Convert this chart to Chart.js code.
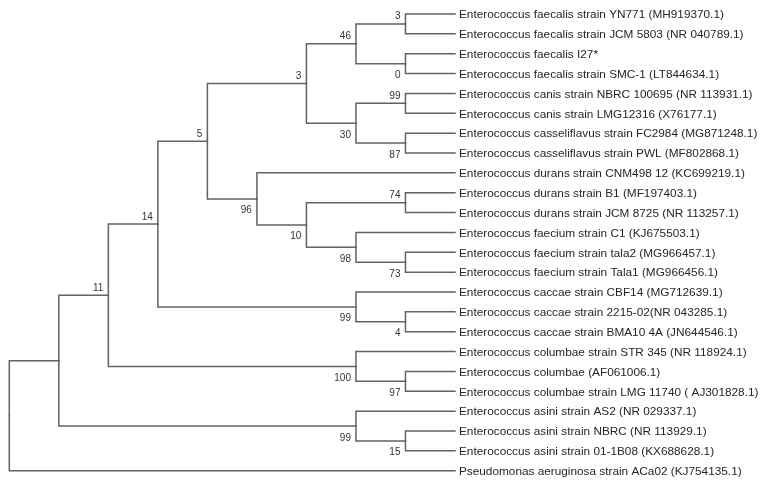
<!DOCTYPE html>
<html><head><meta charset="utf-8">
<script src="https://cdn.jsdelivr.net/npm/chart.js@4/dist/chart.umd.min.js"></script>
<style>html,body{margin:0;padding:0;background:#fff;overflow:hidden}#wrap{width:768px;height:484px;position:relative}</style>
</head><body><div id="wrap"><canvas id="c"></canvas></div>
<script>
// Leaf (taxon) labels, top to bottom
const leafNames = [
  "Enterococcus faecalis strain YN771 (MH919370.1)",
  "Enterococcus faecalis strain JCM 5803 (NR 040789.1)",
  "Enterococcus faecalis I27*",
  "Enterococcus faecalis strain SMC-1 (LT844634.1)",
  "Enterococcus canis strain NBRC 100695 (NR 113931.1)",
  "Enterococcus canis strain LMG12316 (X76177.1)",
  "Enterococcus casseliflavus strain FC2984 (MG871248.1)",
  "Enterococcus casseliflavus strain PWL (MF802868.1)",
  "Enterococcus durans strain CNM498 12 (KC699219.1)",
  "Enterococcus durans strain B1 (MF197403.1)",
  "Enterococcus durans strain JCM 8725 (NR 113257.1)",
  "Enterococcus faecium strain C1 (KJ675503.1)",
  "Enterococcus faecium strain tala2 (MG966457.1)",
  "Enterococcus faecium strain Tala1 (MG966456.1)",
  "Enterococcus caccae strain CBF14 (MG712639.1)",
  "Enterococcus caccae strain 2215-02(NR 043285.1)",
  "Enterococcus caccae strain BMA10 4A (JN644546.1)",
  "Enterococcus columbae strain STR 345 (NR 118924.1)",
  "Enterococcus columbae (AF061006.1)",
  "Enterococcus columbae strain LMG 11740 ( AJ301828.1)",
  "Enterococcus asini strain AS2 (NR 029337.1)",
  "Enterococcus asini strain NBRC (NR 113929.1)",
  "Enterococcus asini strain 01-1B08 (KX688628.1)",
  "Pseudomonas aeruginosa strain ACa02 (KJ754135.1)"
];
const leafLevel = 9;
// Internal nodes: index = 24 + position. Children refer to leaf (0-23) or node (24+) indices.
const nodeChildren = [
  [0,1],[2,3],[24,25],[4,5],[6,7],[27,28],[26,29],
  [9,10],[12,13],[11,32],[31,33],[8,34],[30,35],
  [15,16],[14,37],[36,38],[18,19],[17,40],[39,41],
  [21,22],[20,43],[42,44],[45,23]
];
const nodeLevel = [8,8,7,8,8,7,6, 8,8,7,6,5,4, 8,7,3,8,7,2, 8,7,1,0];
const nodeSupport = [3,0,46,99,87,30,3, 74,73,98,10,96,5, 4,99,14,97,100,11, 15,99,null,null];

// ---- layout from topology ----
const nLeaf = leafNames.length;
const posX = [], posY = [];
for (let i = 0; i < nLeaf; i++) { posX[i] = leafLevel; posY[i] = i; }
nodeChildren.forEach((ch, k) => {
  const id = nLeaf + k;
  posX[id] = nodeLevel[k];
  posY[id] = (posY[ch[0]] + posY[ch[1]]) / 2;
});
const isUpper = {};
nodeChildren.forEach((ch) => { isUpper[ch[0]] = true; isUpper[ch[1]] = false; });

const lineColor = '#636363';
const datasets = [];
nodeChildren.forEach((ch, k) => {
  const p = nLeaf + k;
  ch.forEach(c => {
    datasets.push({
      data: [{x: posX[p], y: posY[p]}, {x: posX[p], y: posY[c]}, {x: posX[c], y: posY[c]}],
      showLine: true, borderColor: lineColor, borderWidth: 1.5, pointRadius: 0,
      tension: 0, fill: false, borderCapStyle: 'square', borderJoinStyle: 'miter'
    });
  });
});

const labelPlugin = {
  id: 'treeLabels',
  afterDatasetsDraw(chart) {
    const ctx = chart.ctx, sx = chart.scales.x, sy = chart.scales.y;
    ctx.save();
    ctx.fillStyle = '#262626';
    ctx.font = '11.8px "Liberation Sans", Arial, sans-serif';
    ctx.textAlign = 'left'; ctx.textBaseline = 'middle';
    for (let i = 0; i < nLeaf; i++) {
      ctx.fillText(leafNames[i], sx.getPixelForValue(leafLevel) + 4, sy.getPixelForValue(i) + 1);
    }
    ctx.font = '10px "Liberation Sans", Arial, sans-serif';
    ctx.textAlign = 'right'; ctx.textBaseline = 'alphabetic';
    ctx.fillStyle = '#333333';
    nodeSupport.forEach((s, k) => {
      if (s === null) return;
      const id = nLeaf + k;
      const px = sx.getPixelForValue(posX[id]) - 5;
      const py = sy.getPixelForValue(posY[id]);
      ctx.fillText(String(s), px, isUpper[id] ? py - 4.5 : py + 14.5);
    });
    ctx.restore();
  }
};

const unitX = 49.52, unitY = 19.857;
const x0 = 9.3, y0 = 14;
new Chart(document.getElementById('c'), {
  type: 'scatter',
  data: { datasets },
  options: {
    responsive: true, maintainAspectRatio: false, animation: false,
    layout: { padding: 0 },
    plugins: { legend: { display: false }, tooltip: { enabled: false } },
    scales: {
      x: { type: 'linear', display: false, min: -x0 / unitX, max: (768 - x0) / unitX },
      y: { type: 'linear', display: false, reverse: true, min: -y0 / unitY, max: (484 - y0) / unitY }
    }
  },
  plugins: [labelPlugin]
});
</script>
</body></html>
